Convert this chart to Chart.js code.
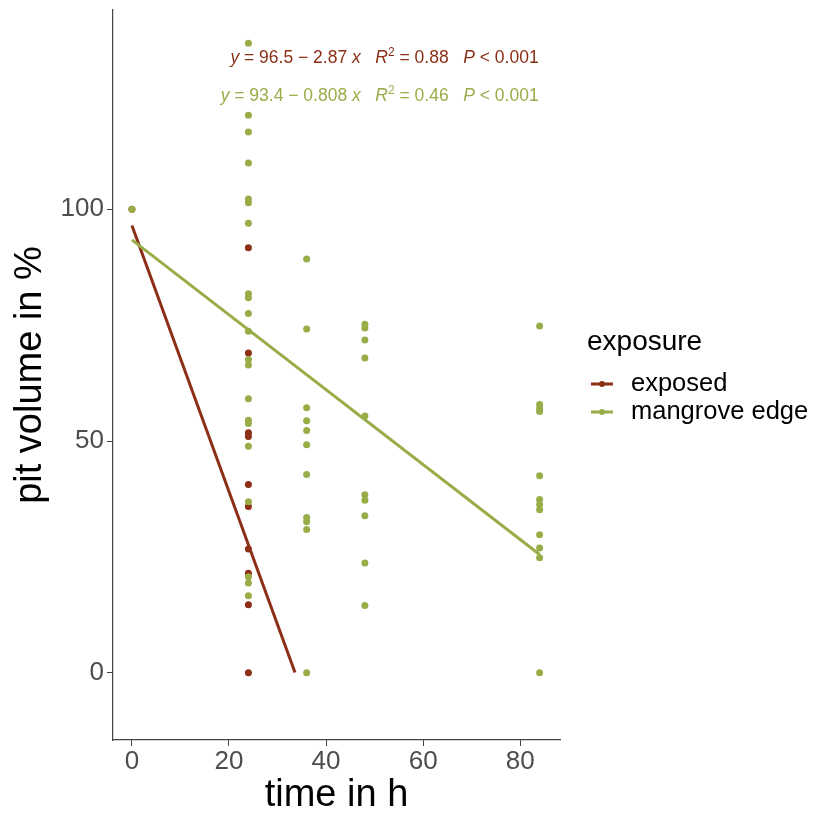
<!DOCTYPE html>
<html>
<head>
<meta charset="utf-8">
<script src="https://cdn.jsdelivr.net/npm/chart.js@4/dist/chart.umd.min.js"></script>
<style>
  html, body { margin: 0; padding: 0; background: #fff; }
  #wrap { width: 814px; height: 815px; }
</style>
</head>
<body>
<div id="wrap"><canvas id="pitChart" width="814" height="815"></canvas></div>
<script>
const RED = '#8c2f16';
const GREEN = '#98ad48';

// measured pit volumes (%) per time point
const exposedTimes = [0, 24, 24, 24, 24, 24, 24, 24, 24, 24, 24];
const exposedValues = [100, 91.7, 69, 51.8, 51, 40.6, 35.9, 26.7, 21.5, 14.7, 0];

const mangroveTimes = [
  0,
  24, 24, 24, 24, 24, 24, 24, 24, 24, 24, 24, 24, 24, 24, 24, 24, 24, 24, 24, 24, 24,
  36, 36, 36, 36, 36, 36, 36, 36, 36, 36, 36,
  48, 48, 48, 48, 48, 48, 48, 48, 48, 48,
  84, 84, 84, 84, 84, 84, 84, 84, 84, 84, 84, 84
];
const mangroveValues = [
  100,
  135.8, 120.3, 116.7, 110, 102.2, 101.4, 97, 81.8, 80.9, 77.5, 73.7, 67.6, 66.4, 59.1, 54.5, 53.8, 48.9, 36.9, 20.7, 19.4, 16.6,
  89.3, 74.2, 57.2, 54.4, 52.3, 49.2, 42.8, 33.5, 32.6, 30.9, 0,
  75.2, 74.4, 71.8, 67.9, 55.4, 38.4, 37.2, 33.9, 23.7, 14.5,
  74.8, 57.9, 57.0, 56.4, 42.5, 37.4, 36.3, 35.2, 29.8, 26.9, 24.8, 0
];

// regression fits
const exposedFit = { intercept: 96.5, slope: -2.87, from: 0, to: 33.6 };
const mangroveFit = { intercept: 93.4, slope: -0.808, from: 0, to: 84 };

const xTicks = [0, 20, 40, 60, 80];
const yTicks = [0, 50, 100];

const fitLabels = [
  { color: RED, parts: [['y', 'i'], [' = 96.5 \u2212 2.87 ', 'n'], ['x', 'i'], ['   ', 'n'], ['R', 'i'], ['2', 's'], [' = 0.88   ', 'n'], ['P', 'i'], [' < 0.001', 'n']] },
  { color: GREEN, parts: [['y', 'i'], [' = 93.4 \u2212 0.808 ', 'n'], ['x', 'i'], ['   ', 'n'], ['R', 'i'], ['2', 's'], [' = 0.46   ', 'n'], ['P', 'i'], [' < 0.001', 'n']] }
];

const legendItems = [
  { label: 'exposed', color: RED },
  { label: 'mangrove edge', color: GREEN }
];

function toPoints(xs, ys) {
  return xs.map((x, i) => ({ x: x, y: ys[i] }));
}

function fitLine(fit) {
  return [
    { x: fit.from, y: fit.intercept + fit.slope * fit.from },
    { x: fit.to, y: fit.intercept + fit.slope * fit.to }
  ];
}

const FONT = "'Liberation Sans', Arial, Helvetica, sans-serif";

const extrasPlugin = {
  id: 'extras',
  afterDraw(chart) {
    const ctx = chart.ctx;
    const xs = chart.scales.x;
    const ys = chart.scales.y;
    ctx.save();

    // fit equations, right aligned
    const rightX = xs.getPixelForValue(83.8);
    const rows = [ys.getPixelForValue(131.5), ys.getPixelForValue(123.4)];
    const fontFor = t => t === 'i' ? 'italic 17.5px ' + FONT : (t === 's' ? '12px ' + FONT : '17.5px ' + FONT);
    fitLabels.forEach((row, r) => {
      let total = 0;
      row.parts.forEach(p => { ctx.font = fontFor(p[1]); total += ctx.measureText(p[0]).width; });
      let x = rightX - total;
      ctx.fillStyle = row.color;
      ctx.textBaseline = 'alphabetic';
      ctx.textAlign = 'left';
      row.parts.forEach(p => {
        ctx.font = fontFor(p[1]);
        ctx.fillText(p[0], x, rows[r] + (p[1] === 's' ? -7 : 0));
        x += ctx.measureText(p[0]).width;
      });
    });

    // legend
    ctx.fillStyle = '#000';
    ctx.font = '28px ' + FONT;
    ctx.textAlign = 'left';
    ctx.textBaseline = 'middle';
    ctx.fillText('exposure', 587, 342);
    legendItems.forEach((item, i) => {
      const y = 384 + i * 28;
      ctx.strokeStyle = item.color;
      ctx.lineWidth = 3;
      ctx.beginPath();
      ctx.moveTo(591, y);
      ctx.lineTo(613, y);
      ctx.stroke();
      ctx.fillStyle = item.color;
      ctx.beginPath();
      ctx.arc(602, y, 3, 0, Math.PI * 2);
      ctx.fill();
      ctx.fillStyle = '#000';
      ctx.font = '25.5px ' + FONT;
      ctx.fillText(item.label, 631, y);
    });
    ctx.restore();
  }
};

const ctx = document.getElementById('pitChart').getContext('2d');
new Chart(ctx, {
  data: {
    datasets: [
      {
        type: 'scatter',
        label: 'exposed',
        data: toPoints(exposedTimes, exposedValues),
        backgroundColor: RED,
        borderWidth: 0,
        pointRadius: 3.5,
        order: 4
      },
      {
        type: 'scatter',
        label: 'mangrove edge',
        data: toPoints(mangroveTimes, mangroveValues),
        backgroundColor: GREEN,
        borderWidth: 0,
        pointRadius: 3.5,
        order: 3
      },
      {
        type: 'line',
        label: 'exposed fit',
        data: fitLine(exposedFit),
        borderColor: RED,
        borderWidth: 3,
        pointRadius: 0,
        fill: false,
        order: 2
      },
      {
        type: 'line',
        label: 'mangrove fit',
        data: fitLine(mangroveFit),
        borderColor: GREEN,
        borderWidth: 3,
        pointRadius: 0,
        fill: false,
        order: 1
      }
    ]
  },
  options: {
    responsive: false,
    animation: false,
    layout: { padding: { top: 10, right: 254, left: 0, bottom: 0 } },
    plugins: {
      legend: { display: false },
      tooltip: { enabled: false }
    },
    scales: {
      x: {
        type: 'linear',
        min: -3.9,
        max: 88.2,
        afterFit: scale => { scale.height = 75; scale.paddingLeft = 0; scale.paddingRight = 0; },
        afterBuildTicks: scale => { scale.ticks = xTicks.map(v => ({ value: v })); },
        grid: { drawOnChartArea: false, drawTicks: true, tickLength: 6, color: '#444' },
        border: { display: true, color: '#444', width: 1.2 },
        ticks: { color: '#4d4d4d', padding: 0, font: { family: FONT, size: 26 } },
        title: {
          display: true,
          text: 'time in h',
          color: '#000',
          padding: { top: 0, bottom: -3 },
          font: { family: FONT, size: 38 }
        }
      },
      y: {
        type: 'linear',
        min: -14.5,
        max: 143,
        afterFit: scale => { scale.width = 113; scale.paddingTop = 0; scale.paddingBottom = 0; },
        afterBuildTicks: scale => { scale.ticks = yTicks.map(v => ({ value: v })); },
        grid: { drawOnChartArea: false, drawTicks: true, tickLength: 6, color: '#444' },
        border: { display: true, color: '#444', width: 1.2 },
        ticks: { color: '#4d4d4d', padding: 3, font: { family: FONT, size: 26 } },
        title: {
          display: true,
          text: 'pit volume in %',
          color: '#000',
          padding: { top: 8, bottom: 0 },
          font: { family: FONT, size: 38 }
        }
      }
    }
  },
  plugins: [extrasPlugin]
});
</script>
</body>
</html>
